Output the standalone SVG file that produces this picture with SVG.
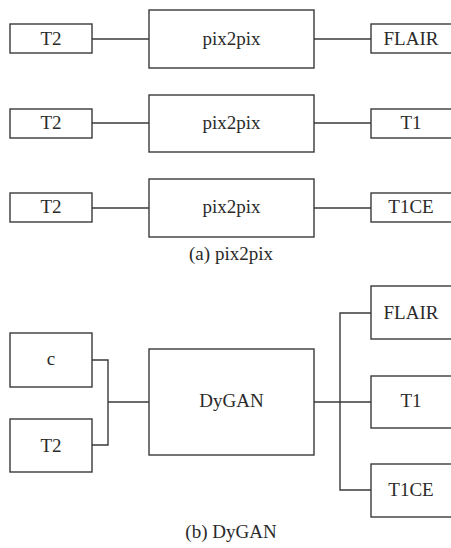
<svg xmlns="http://www.w3.org/2000/svg" width="451" height="548" viewBox="0 0 451 548">
<style>
.box{fill:#fff;stroke:#3a3a3a;stroke-width:1.4}
.ln{fill:none;stroke:#3a3a3a;stroke-width:1.4}
.t{font-size:19px;fill:#2a2a2a;text-anchor:middle}
</style>
<rect width="451" height="548" fill="#fff"/>
<g id="connectors">
<line class="ln" x1="92" y1="39" x2="149" y2="39"/>
<line class="ln" x1="314" y1="39" x2="371" y2="39"/>
<line class="ln" x1="92" y1="123" x2="149" y2="123"/>
<line class="ln" x1="314" y1="123" x2="371" y2="123"/>
<line class="ln" x1="92" y1="208" x2="149" y2="208"/>
<line class="ln" x1="314" y1="208" x2="371" y2="208"/>
<polyline class="ln" points="92,360 108,360 108,445 92,445"/>
<line class="ln" x1="108" y1="402" x2="149" y2="402"/>
<line class="ln" x1="314" y1="402" x2="371" y2="402"/>
<polyline class="ln" points="371,313 340,313 340,490 371,490"/>
</g>
<g font-family="'Liberation Serif', 'Times New Roman', serif">
<g id="a_t2_1"><rect class="box" x="10" y="24" width="82" height="29"/><text class="t" x="51" y="45">T2</text></g>
<g id="a_pix_1"><rect class="box" x="149" y="10" width="165" height="58"/><text class="t" x="231.5" y="45">pix2pix</text></g>
<g id="a_flair"><rect class="box" x="371" y="24" width="82" height="29"/><text class="t" x="411" y="45">FLAIR</text></g>
<g id="a_t2_2"><rect class="box" x="10" y="109" width="82" height="29"/><text class="t" x="51" y="129">T2</text></g>
<g id="a_pix_2"><rect class="box" x="149" y="95" width="165" height="57"/><text class="t" x="231.5" y="129">pix2pix</text></g>
<g id="a_t1"><rect class="box" x="371" y="109" width="82" height="29"/><text class="t" x="411" y="129">T1</text></g>
<g id="a_t2_3"><rect class="box" x="10" y="193" width="82" height="29"/><text class="t" x="51" y="213">T2</text></g>
<g id="a_pix_3"><rect class="box" x="149" y="179" width="165" height="58"/><text class="t" x="231.5" y="213">pix2pix</text></g>
<g id="a_t1ce"><rect class="box" x="371" y="193" width="82" height="29"/><text class="t" x="411" y="213">T1CE</text></g>
<g id="cap_a"><text class="t" x="231" y="260">(a) pix2pix</text></g>
<g id="b_c"><rect class="box" x="10" y="333" width="82" height="54"/><text class="t" x="51" y="365">c</text></g>
<g id="b_t2"><rect class="box" x="10" y="419" width="82" height="53"/><text class="t" x="51" y="452">T2</text></g>
<g id="b_dygan"><rect class="box" x="149" y="349" width="165" height="106"/><text class="t" x="231.5" y="407">DyGAN</text></g>
<g id="b_flair"><rect class="box" x="371" y="286" width="82" height="53"/><text class="t" x="411" y="319">FLAIR</text></g>
<g id="b_t1"><rect class="box" x="371" y="376" width="82" height="52"/><text class="t" x="411" y="407">T1</text></g>
<g id="b_t1ce"><rect class="box" x="371" y="464" width="82" height="53"/><text class="t" x="411" y="496">T1CE</text></g>
<g id="cap_b"><text class="t" x="231" y="538">(b) DyGAN</text></g>
</g>
</svg>
